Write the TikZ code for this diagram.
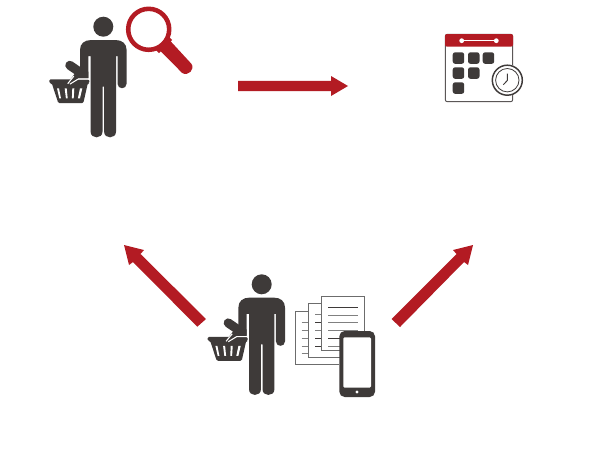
\documentclass[tikz,border=0pt]{standalone}
\usepackage{tikz}
\definecolor{bagred}{HTML}{B31B23}
\definecolor{ink}{HTML}{3E3A39}
\tikzset{
  x=0.75pt,y=-0.75pt,
  person/.pic={
    % coordinates relative to the head centre
    \fill[ink] (0,0) circle (10);
    % silhouette: shoulders, arms, legs
    \fill[ink] (-23.3,23.3) .. controls (-23.3,17) and (-19,13.3) .. (-12,13.3) -- (12,13.3)
      .. controls (19,13.3) and (23.3,17) .. (23.3,23.3) -- (23.3,57)
      .. controls (23.3,63) and (14.2,63) .. (14.2,57) -- (14.2,29.5) -- (12.7,29.5)
      -- (12.7,105) .. controls (12.7,112.5) and (0.8,112.5) .. (0.8,105) -- (0.8,60) -- (-0.8,60) -- (-0.8,105)
      .. controls (-0.8,112.5) and (-12.7,112.5) .. (-12.7,105) -- (-12.7,29.5) -- (-15,29.5) -- (-15,51.5) -- (-23.3,44) -- cycle;
    % basket
    \fill[ink,rounded corners=1pt] (-54,52.6) -- (-14,52.6) -- (-14,56.6) -- (-15.5,56.6) -- (-20,76.5) -- (-45,76.5) -- (-51.5,56.6) -- (-54,56.6) -- cycle;
    \fill[white] (-46.3,61.6) -- (-44.3,61.6) -- (-42.3,71.6) -- (-44,71.6) -- cycle;
    \fill[white] (-38.6,61.6) -- (-36.6,61.6) -- (-35.6,71.6) -- (-37.4,71.6) -- cycle;
    \fill[white] (-31,61.6) -- (-29,61.6) -- (-29.6,71.6) -- (-31.4,71.6) -- cycle;
    \fill[white] (-23.3,61.6) -- (-21,61.6) -- (-23.3,71.6) -- (-25.4,71.6) -- cycle;
    % forearm and hand holding the handle
    \fill[ink] (-15,52) -- (-25,52) -- (-33.5,56.2) -- (-35,55.5) -- (-27,45) -- (-15,45) -- cycle;
    \draw[ink,line width=6.8pt,line cap=round] (-33.5,38.6) -- (-22,46.5);
    \draw[white,line width=0.8pt] (-35.6,57) -- (-29.5,49.5);
    \draw[white,line width=0.8pt] (-33.4,57.4) -- (-25,52.3) -- (-14.5,52.3);
  }
}
\begin{document}
\begin{tikzpicture}
\useasboundingbox[fill=white] (0,0) rectangle (598,471);
% shoppers
\coordinate (shopperA) at (103.3,26.7);
\coordinate (shopperB) at (261.7,284.3);
\pic at (shopperA) {person};
\pic at (shopperB) {person};
% magnifier
\coordinate (lens) at (148.7,29.3);
\draw[bagred,line width=3.4pt] (lens) circle (20.5);
\draw[bagred,line width=14pt] (161.5,42.5) -- (165.5,46.5);
\fill[bagred] (169,39.5) -- (191.3,63.7) .. controls (195.5,69) and (188,77) .. (182.1,72.9) -- (159,49.5) -- cycle;
% calendar
\draw[ink!85,line width=0.7pt,rounded corners=1.5pt] (445.3,34.3) rectangle (512.7,101.7);
\fill[bagred,rounded corners=1.5pt] (445,34) rectangle (513,46.7);
\draw[white,line width=0.7pt] (461.7,40.7) -- (496.3,40.7);
\fill[white] (461.7,40.7) circle (2.4) (496.3,40.7) circle (2.4);
\foreach \cx/\cy in {452.7/52.3,468/52.3,482.7/52.3,452.7/67.3,468/67.3,452.7/82.3}
  \fill[ink,rounded corners=1.8pt] (\cx,\cy) rectangle ++(11.5,11.5);
\coordinate (clock) at (507.3,80.2);
\fill[white] (clock) circle (15.8);
\draw[ink,line width=1.1pt] (clock) circle (15);
\draw[ink,line width=0.6pt] (clock) circle (11.7);
\draw[ink,line width=0.7pt] (507.3,73.5) -- (507.3,80.5) -- (503.3,84.7);
% documents
\fill[white] (295.3,311) rectangle (345,364.3);
\draw[gray!85!black,line width=0.6pt] (338.5,364.3) -- (295.3,364.3) -- (295.3,311) -- (340,311);
\foreach \yy in {322,330,338,346,353.7}
  \draw[gray,line width=0.7pt] (301.7,\yy) -- (308.3,\yy);
\fill[white] (308.3,303.7) rectangle (352,357.3);
\draw[gray!85!black,line width=0.6pt] (339.5,357.3) -- (308.3,357.3) -- (308.3,303.7) -- (352,303.7);
\foreach \yy/\cc in {314.3/gray,322.3/ink,330/gray,338/ink,346/ink}
  \draw[\cc,line width=0.7pt] (315,\yy) -- (321.3,\yy);
\fill[white] (321.3,296.3) rectangle (364.7,350.3);
\draw[gray!85!black,line width=0.7pt] (321.3,296.3) rectangle (364.7,350.3);
\foreach \yy/\cc in {307.3/ink,315/gray,322.7/gray,330.7/gray,338.3/ink,346/gray}
  \draw[\cc,line width=0.7pt] (328,\yy) -- (358.3,\yy);
% phone
\fill[ink,rounded corners=4pt] (339.3,331) rectangle (375,397);
\fill[white,rounded corners=1pt] (343.3,337.3) rectangle (371,387.7);
\fill[white] (357,392) circle (1.6);
% arrows
\coordinate (rightTail) at (238,86);
\coordinate (rightTip) at (348,86);
\fill[bagred] (rightTail) ++(0,-5.2) -- (331,80.8) -- (331,76) -- (rightTip) -- (331,96) -- (331,91.2) -- (238,91.2) -- cycle;
\coordinate (leftTip) at (124,245);
\fill[bagred] (leftTip) -- (144,250) -- (140.5,254) -- (206,319) -- (197.3,326.7) -- (133,262) -- (129,265) -- cycle;
\coordinate (upTip) at (473,245);
\fill[bagred] (upTip) -- (453,250) -- (456.5,254) -- (391.5,319) -- (400,327) -- (464,262) -- (468,265) -- cycle;
\end{tikzpicture}
\end{document}
